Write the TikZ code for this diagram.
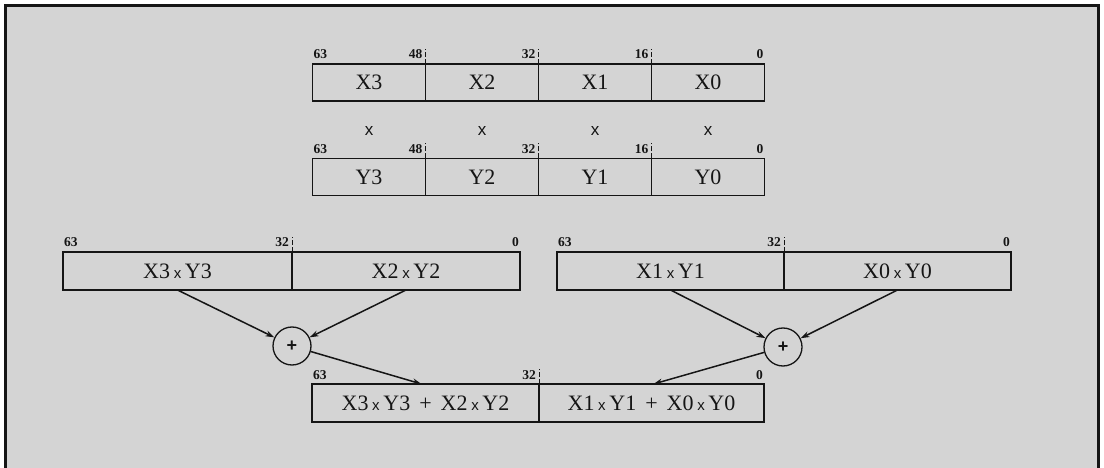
\documentclass[tikz,border=0pt]{standalone}
\usepackage{fontspec}
\setmainfont{Liberation Serif}
\newfontfamily\sansx{Liberation Sans}
\usetikzlibrary{arrows.meta,calc}
\newcommand\mulx{{\sansx\fontsize{15}{15}\selectfont x}}
\newcommand\pl{\hspace{9pt}+\hspace{9pt}}
\definecolor{bgray}{HTML}{D4D4D4}
\definecolor{ink}{HTML}{151515}
\begin{document}
\begin{tikzpicture}[x=1pt,y=-1pt,
 cell/.style={draw=ink, line width=1.5pt, inner sep=0pt, outer sep=0pt, minimum height=37pt, text=ink, font=\fontsize{22}{22}\selectfont},
 bitlbl/.style={font=\bfseries\fontsize{13.5}{13.5}\selectfont, inner sep=0pt, text=ink},
 mul/.style={font=\sansx\fontsize{17}{17}\selectfont, inner sep=0pt, text=ink},
 ticks/.style={draw=ink, line width=1pt, dash pattern=on 5pt off 2pt},
 arr/.style={draw=ink, line width=1.5pt, -{Stealth[length=9pt,width=6pt]}},
 plus/.style={circle, draw=ink, line width=1.3pt, minimum size=38pt, inner sep=0pt, text=ink, font=\sansx\bfseries\fontsize{18}{18}\selectfont}]
\useasboundingbox (0,0) rectangle (1104,468);
\fill[white] (0,0) rectangle (1104,468);
\fill[bgray] (5,6) rectangle (1098,470);
\draw[line width=3pt, ink] (5,470) -- (5,6) -- (1098,6) -- (1098,470);

% top row X
\node[cell, minimum width=113pt] (x3) at (369,82.5) {X3};
\node[cell, minimum width=113pt] (x2) at (482,82.5) {X2};
\node[cell, minimum width=113pt] (x1) at (595,82.5) {X1};
\node[cell, minimum width=113pt] (x0) at (708,82.5) {X0};
% second row Y
\node[cell, minimum width=113pt] (y3) at (369,177) {Y3};
\node[cell, minimum width=113pt] (y2) at (482,177) {Y2};
\node[cell, minimum width=113pt] (y1) at (595,177) {Y1};
\node[cell, minimum width=113pt] (y0) at (708,177) {Y0};

% multiply signs
\foreach \a/\b in {x3/y3,x2/y2,x1/y1,x0/y0}
  \node[mul] (m\a) at ($(\a.south)!0.5!(\b.north)+(0,1)$) {x};

% bit labels rows 1 and 2
\foreach \r in {x,y}{
  \node[bitlbl, anchor=base west] (l63\r) at ([xshift=1pt,yshift=5pt]\r3.north west) {63};
  \node[bitlbl, anchor=base east] (l48\r) at ([xshift=-3pt,yshift=5pt]\r3.north east) {48};
  \node[bitlbl, anchor=base east] (l32\r) at ([xshift=-3pt,yshift=5pt]\r2.north east) {32};
  \node[bitlbl, anchor=base east] (l16\r) at ([xshift=-3pt,yshift=5pt]\r1.north east) {16};
  \node[bitlbl, anchor=base east] (l0\r) at ([xshift=-1pt,yshift=5pt]\r0.north east) {0};
  \draw[ticks] (\r3.north east) -- ++(0,-15);
  \draw[ticks] (\r2.north east) -- ++(0,-15);
  \draw[ticks] (\r1.north east) -- ++(0,-15);
}

% products
\node[cell, minimum width=229pt, minimum height=38pt] (p3) at (177.5,271) {X3\,\mulx\,Y3};
\node[cell, minimum width=228pt, minimum height=38pt] (p2) at (406,271) {X2\,\mulx\,Y2};
\node[cell, minimum width=227pt, minimum height=38pt] (p1) at (670.5,271) {X1\,\mulx\,Y1};
\node[cell, minimum width=227pt, minimum height=38pt] (p0) at (897.5,271) {X0\,\mulx\,Y0};
\node[bitlbl, anchor=base west] (lp63a) at ([xshift=1pt,yshift=5pt]p3.north west) {63};
\node[bitlbl, anchor=base east] (lp32a) at ([xshift=-3pt,yshift=5pt]p3.north east) {32};
\node[bitlbl, anchor=base east] (lp0a) at ([xshift=-1pt,yshift=5pt]p2.north east) {0};
\node[bitlbl, anchor=base west] (lp63b) at ([xshift=1pt,yshift=5pt]p1.north west) {63};
\node[bitlbl, anchor=base east] (lp32b) at ([xshift=-3pt,yshift=5pt]p1.north east) {32};
\node[bitlbl, anchor=base east] (lp0b) at ([xshift=-1pt,yshift=5pt]p0.north east) {0};
\draw[ticks] (p3.north east) -- ++(0,-15);
\draw[ticks] (p1.north east) -- ++(0,-15);

% adders
\node[plus] (c1) at (292,346) {+};
\node[plus] (c0) at (783,347) {+};

% sums
\node[cell, minimum width=227pt, minimum height=38pt] (s1) at (425.5,403) {X3\,\mulx\,Y3\pl X2\,\mulx\,Y2};
\node[cell, minimum width=225pt, minimum height=38pt] (s0) at (651.5,403) {X1\,\mulx\,Y1\pl X0\,\mulx\,Y0};
\node[bitlbl, anchor=base west] (ls63) at ([xshift=1pt,yshift=5pt]s1.north west) {63};
\node[bitlbl, anchor=base east] (ls32) at ([xshift=-3pt,yshift=5pt]s1.north east) {32};
\node[bitlbl, anchor=base east] (ls0) at ([xshift=-1pt,yshift=5pt]s0.north east) {0};
\draw[ticks] (s1.north east) -- ++(0,-15);

% arrows
\draw[arr] (p3.south) -- (c1);
\draw[arr] (p2.south) -- (c1);
\draw[arr] (p1.south) -- (c0);
\draw[arr] (p0.south) -- (c0);
\draw[arr] (c1) -- ([xshift=-4pt]s1.north);
\draw[arr] (c0) -- ([xshift=2pt]s0.north);
\end{tikzpicture}
\end{document}
